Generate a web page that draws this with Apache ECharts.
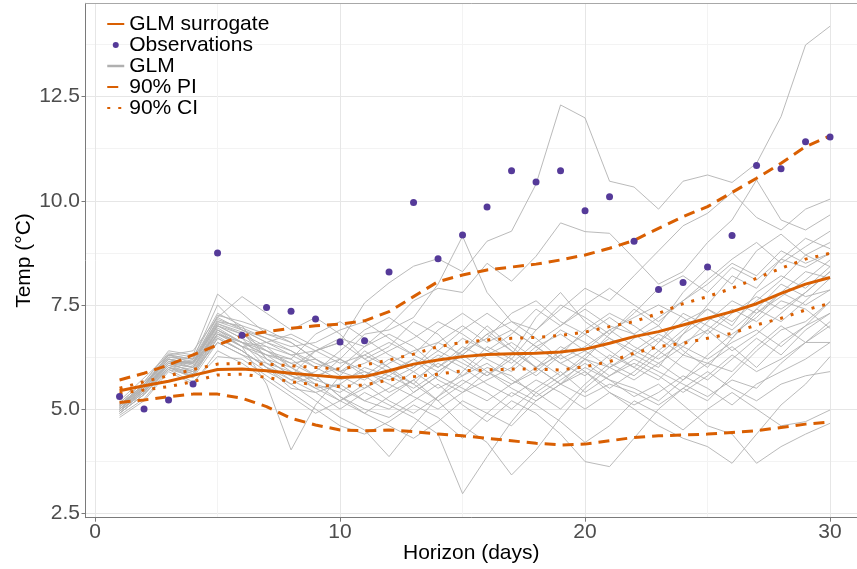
<!DOCTYPE html>
<html>
<head>
<meta charset="utf-8">
<script src="https://cdn.jsdelivr.net/npm/echarts@6/dist/echarts.min.js"></script>
<style>
  html, body { margin: 0; padding: 0; background: #ffffff; }
  #chart { width: 857px; height: 569px; }
</style>
</head>
<body>
<div id="chart"></div>
<script>
// Forecast horizon (days)
const days = [1,2,3,4,5,6,7,8,9,10,11,12,13,14,15,16,17,18,19,20,21,22,23,24,25,26,27,28,29,30];

// Axis tick positions
const xTicks = [0, 10, 20, 30];
const xMinorTicks = [5, 15, 25];
const yTicks = [2.5, 5, 7.5, 10, 12.5];
const yMinorTicks = [3.75, 6.25, 8.75, 11.25, 13.75];

// Observed temperature (°C)
const observed = [5.30,5.00,5.22,5.60,8.75,6.77,7.44,7.35,7.16,6.61,6.64,8.29,9.96,8.61,9.18,9.85,10.72,10.45,10.72,9.76,10.10,9.03,7.87,8.04,8.41,9.17,10.85,10.77,11.42,11.53];

// GLM surrogate fit and its intervals
const surrogate = [5.44,5.56,5.67,5.81,5.95,5.96,5.92,5.86,5.81,5.76,5.78,5.92,6.08,6.18,6.26,6.31,6.33,6.34,6.37,6.44,6.58,6.74,6.86,7.02,7.18,7.34,7.53,7.78,8.00,8.16];
const piUpper = [5.70,5.86,6.06,6.30,6.54,6.76,6.86,6.94,7.00,7.04,7.12,7.34,7.70,8.06,8.22,8.34,8.41,8.48,8.58,8.70,8.86,9.05,9.34,9.62,9.86,10.20,10.54,10.90,11.30,11.56];
const piLower = [5.16,5.22,5.30,5.36,5.36,5.26,5.06,4.78,4.62,4.50,4.48,4.50,4.46,4.40,4.36,4.30,4.24,4.18,4.14,4.16,4.24,4.32,4.36,4.38,4.40,4.44,4.48,4.56,4.64,4.69];
const ciUpper = [5.50,5.66,5.80,5.95,6.08,6.10,6.08,6.04,6.00,5.96,6.06,6.18,6.32,6.50,6.60,6.66,6.70,6.72,6.77,6.85,6.98,7.10,7.30,7.53,7.70,7.90,8.14,8.38,8.60,8.74];
const ciLower = [5.38,5.46,5.54,5.66,5.82,5.84,5.76,5.66,5.58,5.54,5.58,5.70,5.78,5.84,5.92,5.94,5.96,5.96,5.94,6.02,6.14,6.34,6.50,6.58,6.70,6.82,7.02,7.18,7.38,7.54];

// GLM ensemble members
const glmMembers = [
  [5.20,5.75,6.30,6.20,7.50,6.90,6.60,6.30,6.40,6.60,7.55,8.03,8.43,8.61,8.30,9.03,9.27,10.40,12.30,11.99,10.47,10.33,9.80,10.47,10.62,10.44,10.90,12.02,13.74,14.19],
  [5.10,5.60,6.20,6.00,7.00,6.80,6.40,6.00,5.70,6.20,6.80,6.90,7.20,8.00,9.15,7.80,7.10,6.90,7.40,7.90,7.60,8.20,8.80,9.40,9.70,10.20,9.60,9.30,9.80,10.04],
  [5.00,5.50,6.10,6.10,7.10,7.00,6.20,5.80,6.40,6.70,6.50,7.00,7.60,7.90,7.80,8.50,8.07,8.67,9.47,9.26,9.22,8.62,8.00,8.30,9.00,9.54,10.50,9.54,9.30,9.66],
  [5.15,5.65,6.40,6.30,7.76,7.30,6.80,6.60,6.20,5.90,6.30,6.00,5.60,6.20,6.70,6.40,6.10,6.60,7.00,7.40,7.00,6.80,7.20,7.60,8.10,8.60,9.00,8.50,8.90,9.27],
  [5.05,5.55,6.30,6.40,7.20,7.70,7.30,6.90,7.20,6.80,6.20,6.50,7.10,6.80,6.20,5.80,6.30,7.20,7.80,7.10,6.70,6.30,6.00,6.80,7.50,8.20,7.90,8.60,8.40,8.74],
  [4.95,5.40,6.00,5.90,6.90,6.50,5.60,4.02,5.10,5.80,6.40,6.00,5.40,5.80,6.40,7.00,6.50,6.00,5.60,6.20,6.80,7.40,7.00,6.40,6.00,6.70,7.30,7.70,8.10,8.58],
  [5.10,5.50,6.20,6.10,6.80,6.60,6.00,5.60,5.20,4.80,4.50,3.86,4.60,5.30,5.90,6.50,6.20,5.80,6.30,6.90,7.30,7.00,6.60,7.10,7.40,7.00,7.80,8.20,7.90,8.42],
  [4.90,5.35,6.00,5.80,6.70,6.40,6.00,5.50,5.40,5.00,5.40,5.10,4.80,4.40,2.97,3.86,4.70,5.40,5.00,5.60,6.10,5.80,6.30,6.80,7.20,6.90,7.40,7.10,7.60,8.14],
  [5.00,5.45,6.10,6.00,6.90,6.60,6.30,5.90,5.50,5.20,4.90,5.30,5.70,5.20,4.60,4.20,3.42,4.02,4.80,5.50,6.00,6.40,6.10,5.70,6.30,6.80,7.20,7.80,7.50,7.86],
  [5.05,5.55,6.20,6.10,7.00,6.70,6.40,6.10,5.80,5.30,5.00,4.80,5.20,5.60,5.10,4.70,5.20,4.90,4.40,3.74,3.62,4.30,5.00,5.50,5.20,5.80,6.40,6.90,7.10,7.58],
  [4.95,5.40,6.10,5.90,6.80,6.50,6.20,5.80,5.50,5.60,5.20,5.50,5.90,6.30,6.00,5.60,5.30,5.70,5.40,5.00,5.40,5.00,4.60,4.30,4.10,3.70,4.40,5.10,5.60,6.26],
  [5.10,5.60,6.25,6.20,7.10,6.90,6.60,6.40,6.00,5.70,5.90,5.60,5.30,5.00,5.40,5.90,5.50,5.20,5.60,6.00,5.70,5.30,5.60,5.10,4.60,4.40,3.70,4.10,4.40,4.66],
  [4.85,5.25,5.95,5.65,6.26,6.20,5.80,5.40,5.00,4.60,4.40,4.70,5.10,4.80,4.30,4.90,5.40,5.10,4.70,4.20,4.60,5.20,4.90,4.50,5.00,5.40,5.00,4.60,4.70,4.98],
  [5.00,5.50,6.15,6.00,6.95,6.60,6.30,6.10,6.20,5.90,5.70,6.10,6.40,6.60,6.30,6.80,7.10,6.70,6.20,6.50,6.90,7.20,7.50,7.20,6.80,7.30,7.70,7.40,7.80,8.30],
  [5.10,5.60,6.30,6.20,7.20,6.90,6.70,6.50,6.60,6.90,7.10,6.70,6.30,6.00,6.50,6.20,5.90,6.40,6.90,6.60,6.20,6.70,7.00,7.80,8.40,8.00,8.80,9.20,8.70,9.00],
  [4.95,5.45,6.05,5.85,6.75,6.40,6.00,5.80,5.60,5.40,5.80,6.20,5.90,5.50,5.80,6.30,6.60,6.20,5.80,6.20,6.00,5.70,6.10,6.50,6.20,6.60,6.90,6.50,7.00,7.30],
  [5.05,5.55,6.20,6.05,7.05,6.80,6.50,6.30,6.00,6.20,5.90,5.70,6.00,6.40,6.90,7.30,6.90,6.50,6.80,6.40,6.00,6.30,6.70,6.30,6.90,7.40,7.10,7.60,7.40,6.94],
  [4.80,5.20,5.90,5.60,6.40,6.10,5.70,5.30,4.90,5.20,5.60,5.20,4.90,5.30,5.70,5.40,5.00,5.50,5.90,5.40,5.80,6.20,5.90,5.60,5.30,5.70,5.50,6.10,6.60,6.60],
  [5.00,5.50,6.10,6.15,7.00,6.70,6.10,5.70,5.90,6.40,6.90,7.20,6.80,6.40,6.10,5.80,6.20,6.90,7.50,7.20,6.80,7.30,7.90,8.20,7.80,8.40,8.10,8.60,9.10,8.85],
  [5.15,5.65,6.35,6.25,7.30,7.00,6.80,6.70,6.40,6.10,6.30,6.60,6.30,6.90,7.30,6.90,6.40,6.00,6.30,5.90,5.50,5.90,6.40,6.00,5.70,6.20,6.70,6.30,6.90,7.30],
  [4.90,5.35,6.00,5.75,6.60,6.30,6.10,5.90,5.70,5.50,5.20,5.00,5.40,5.80,5.50,5.20,5.60,6.00,5.60,5.30,5.60,5.40,5.10,5.50,5.90,5.50,5.20,5.60,5.80,5.90],
  [5.05,5.50,6.15,6.10,6.85,6.50,6.60,6.80,6.50,6.20,5.80,5.40,5.70,6.10,5.80,6.10,5.70,5.40,5.80,6.30,6.70,6.40,6.80,6.50,7.10,7.60,7.30,7.80,8.30,8.14],
  [4.95,5.40,6.05,5.95,6.90,6.60,6.40,6.20,5.80,6.00,6.50,6.80,6.50,6.00,6.40,6.70,7.30,7.60,7.10,6.80,7.20,6.80,6.40,6.90,7.40,7.10,7.60,8.10,8.70,8.42],
  [5.10,5.55,6.25,6.15,7.05,6.85,6.20,6.00,6.40,6.60,6.20,5.90,6.20,5.70,5.40,5.70,6.00,6.50,6.10,5.80,6.30,6.00,5.70,6.30,6.10,6.50,6.00,6.60,7.00,7.58],
  [5.00,5.45,6.10,5.90,6.60,6.30,5.90,5.60,5.80,5.30,4.90,4.60,4.30,4.70,5.20,4.90,4.60,5.20,5.60,5.90,5.40,5.10,5.40,5.80,5.50,5.10,5.60,5.90,6.20,6.60],
  [5.05,5.60,6.20,6.10,7.15,6.95,6.70,6.40,6.10,5.90,6.10,6.40,6.70,7.10,6.80,6.40,6.80,7.40,7.00,7.50,7.90,7.50,7.10,7.60,8.00,8.50,8.20,8.80,8.50,8.74],
  [4.90,5.35,5.95,5.80,6.70,6.40,6.00,5.70,5.40,5.60,6.00,5.80,5.50,5.90,6.30,5.90,5.60,5.90,6.40,6.80,6.40,6.00,6.60,7.30,7.00,6.70,7.40,8.00,7.70,7.86],
  [5.00,5.50,6.10,6.00,6.80,6.50,6.30,6.20,6.80,7.10,6.70,6.30,6.00,6.60,7.00,6.60,6.90,6.50,6.10,6.40,6.90,6.50,6.20,6.60,6.90,6.40,6.80,7.30,7.80,8.30],
  [5.10,5.60,6.30,6.10,7.25,7.10,6.90,6.60,6.20,5.80,5.50,5.80,6.20,5.90,6.30,6.80,6.40,6.00,6.50,6.20,5.80,6.10,5.80,5.40,5.80,6.30,5.90,6.20,6.60,7.00],
  [4.95,5.45,6.00,5.85,6.80,6.60,6.50,6.00,5.60,5.20,5.50,5.90,5.60,5.20,5.60,6.00,5.80,5.30,5.70,6.10,5.70,5.50,5.20,5.70,6.10,5.90,6.50,7.00,6.60,7.10]
];

const FONT = "'Liberation Sans', Arial, Helvetica, sans-serif";
const ORANGE = '#d95f02';
const PURPLE = '#553a99';
const GRAY = '#b3b3b3';
const AXIS_GRAY = '#7a7a7a';

const pair = vals => days.map((d, i) => [d, vals[i]]);

const series = [];
glmMembers.forEach(member => {
  series.push({
    name: 'GLM', type: 'line', data: pair(member),
    symbol: 'none', silent: true, z: 2,
    lineStyle: { color: GRAY, width: 1, opacity: 0.9 },
    itemStyle: { color: GRAY }
  });
});
series.push({
  name: 'GLM surrogate', type: 'line', data: pair(surrogate),
  symbol: 'none', z: 4,
  lineStyle: { color: ORANGE, width: 3 }, itemStyle: { color: ORANGE }
});
[piUpper, piLower].forEach(band => series.push({
  name: '90% PI', type: 'line', data: pair(band),
  symbol: 'none', z: 4,
  lineStyle: { color: ORANGE, width: 3, type: [11, 7] }, itemStyle: { color: ORANGE }
}));
[ciUpper, ciLower].forEach(band => series.push({
  name: '90% CI', type: 'line', data: pair(band),
  symbol: 'none', z: 4,
  lineStyle: { color: ORANGE, width: 3, type: [3, 8] }, itemStyle: { color: ORANGE }
}));
series.push({
  name: 'Observations', type: 'scatter', data: pair(observed),
  symbol: 'circle', symbolSize: 7, z: 6,
  itemStyle: { color: PURPLE, opacity: 1 }
});

const xRange = { min: -0.39, max: 31.1 };
const yRange = { min: 2.394, max: 14.74 };

// legend keys for line series: line only, no marker
const lineKey = { itemStyle: { opacity: 0 } };

const option = {
  animation: false,
  backgroundColor: '#ffffff',
  textStyle: { fontFamily: FONT },
  grid: {
    left: 85.5, right: 0, top: 3.3, bottom: 51.3,
    show: false, containLabel: false, outerBoundsMode: 'none'
  },
  legend: {
    orient: 'vertical', left: 101, top: 8.5,
    itemWidth: 17, itemHeight: 6, itemGap: 0,
    textStyle: { color: '#000000', fontSize: 21, fontFamily: FONT, lineHeight: 21 },
    selectedMode: false,
    data: [
      Object.assign({ name: 'GLM surrogate' }, lineKey),
      { name: 'Observations', icon: 'circle' },
      Object.assign({ name: 'GLM', lineStyle: { color: '#b0b0b0', width: 2.5, opacity: 1 } }, lineKey),
      Object.assign({ name: '90% PI' }, lineKey),
      Object.assign({ name: '90% CI' }, lineKey)
    ]
  },
  xAxis: [
    {
      type: 'value', position: 'bottom', min: xRange.min, max: xRange.max,
      name: 'Horizon (days)', nameLocation: 'middle', nameGap: 25, nameMoveOverlap: false,
      nameTextStyle: { color: '#000000', fontSize: 21, fontFamily: FONT, lineHeight: 21 },
      axisLine: { show: true, onZero: false, lineStyle: { color: AXIS_GRAY, width: 1 } },
      axisTick: { show: true, length: 4, customValues: xTicks, lineStyle: { color: AXIS_GRAY } },
      axisLabel: { customValues: xTicks, color: '#4d4d4d', fontSize: 21, fontFamily: FONT, lineHeight: 21, margin: 4 },
      splitLine: { show: true, lineStyle: { color: '#e6e6e6', width: 1 } }
    },
    {
      // panel top edge and minor vertical grid
      type: 'value', position: 'top', min: xRange.min, max: xRange.max,
      axisLine: { show: true, onZero: false, lineStyle: { color: '#a8a8a8', width: 1 } },
      axisLabel: { show: false },
      axisTick: { show: false, customValues: xMinorTicks },
      splitLine: { show: true, lineStyle: { color: '#f3f3f3', width: 1 } }
    }
  ],
  yAxis: [
    {
      type: 'value', position: 'left', min: yRange.min, max: yRange.max,
      name: 'Temp (°C)', nameLocation: 'middle', nameGap: 51, nameRotate: 90, nameMoveOverlap: false,
      nameTextStyle: { color: '#000000', fontSize: 21, fontFamily: FONT, lineHeight: 21 },
      axisLine: { show: true, onZero: false, lineStyle: { color: AXIS_GRAY, width: 1 } },
      axisTick: { show: true, length: 4, customValues: yTicks, lineStyle: { color: AXIS_GRAY } },
      axisLabel: { customValues: yTicks, color: '#4d4d4d', fontSize: 21, fontFamily: FONT, margin: 5.5,
                   formatter: v => Number(v).toFixed(1) },
      splitLine: { show: true, lineStyle: { color: '#e6e6e6', width: 1 } }
    },
    {
      type: 'value', position: 'right', min: yRange.min, max: yRange.max,
      axisLine: { show: false }, axisLabel: { show: false },
      axisTick: { show: false, customValues: yMinorTicks },
      splitLine: { show: true, lineStyle: { color: '#f3f3f3', width: 1 } }
    }
  ],
  series: series
};

const chart = echarts.init(document.getElementById('chart'), null, { renderer: 'canvas' });
chart.setOption(option);
</script>
</body>
</html>
